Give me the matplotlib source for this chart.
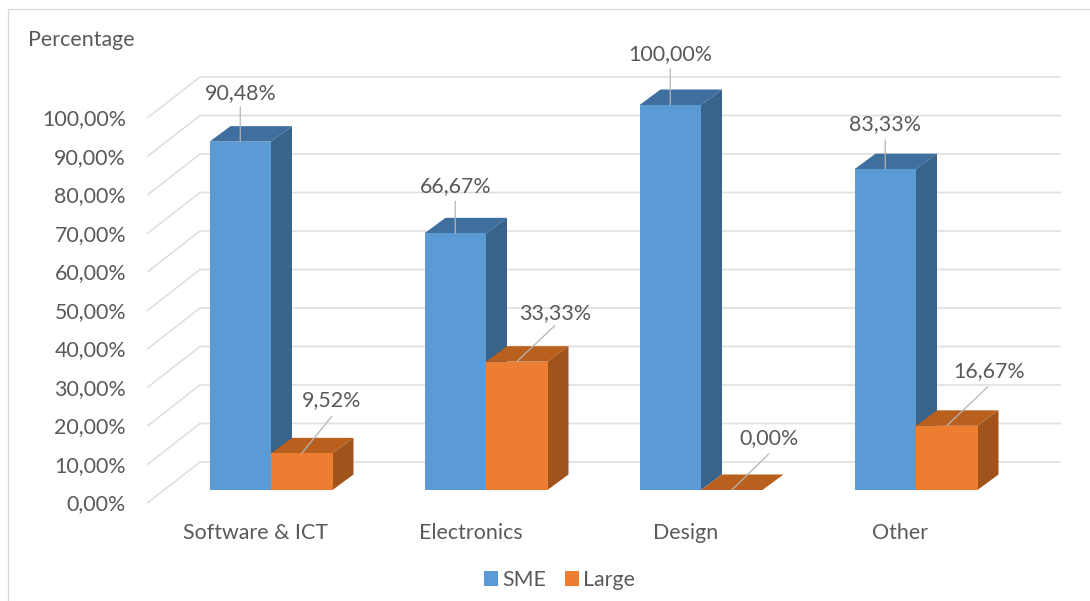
import matplotlib
matplotlib.use("Agg")
import matplotlib.pyplot as plt
from matplotlib.lines import Line2D
from matplotlib.transforms import ScaledTranslation

categories = ["Software & ICT", "Electronics", "Design", "Other"]
sme = [90.48, 66.67, 100.00, 83.33]
large = [9.52, 33.33, 0.00, 16.67]
y_ticks = [0, 10, 20, 30, 40, 50, 60, 70, 80, 90, 100]

W, H = 1090, 601
DPI = 100
TEXT = "#595959"
GRID = "#dfdfdf"
LEADER = "#b5b5b5"
BLUE = ("#5b9bd5", "#3f6f9f", "#38638b")
ORANGE = ("#ed7d31", "#b9601f", "#a0541c")

# plot box is the front plane of the bars, in pixels
LEFT, RIGHT, BOTTOM, TOP = 148, 1060, 490, 105
GROUP_STEP = 215.0
FIRST_GROUP = 271.0
PX_Y = (BOTTOM - TOP) / 100.0

BAR_W = 61.5 / GROUP_STEP
DEPTH_X = 21 / GROUP_STEP
DEPTH_Y = 15.5 / PX_Y
WALL_X = 200
WALL_UP = 28
FLOOR_DOWN = 12.5

# pixel offsets from the bar's front top centre: text centre, leader start
sme_offsets = [((1, 49), (0, 35)), ((0, 47), (0, 32)), ((0, 51), (0, 36)), ((0, 45), (0, 29))]
large_offsets = [((30, 53), (30, 37)), ((38, 49), (38, 36)), ((37, 52), (37, 36)), ((42, 55), (41, 39))]


def px_offset(dx, dy):
    return ScaledTranslation(dx / DPI, dy / DPI, fig.dpi_scale_trans)


def pct(v):
    return f"{v:.2f}".replace(".", ",") + "%"


def draw_bars(xs, values, colors, z, offsets, label):
    front, top, side = colors
    ax.bar(xs, values, BAR_W, color=front, zorder=z + 1, label=label)
    for x, v, (text_off, line_off) in zip(xs, values, offsets):
        x0, x1 = x - BAR_W / 2, x + BAR_W / 2
        ax.fill([x0, x1, x1 + DEPTH_X, x0 + DEPTH_X], [v, v, v + DEPTH_Y, v + DEPTH_Y],
                color=top, lw=0, zorder=z, clip_on=False)
        if v > 0:
            ax.fill([x1, x1 + DEPTH_X, x1 + DEPTH_X, x1], [0, DEPTH_Y, v + DEPTH_Y, v],
                    color=side, lw=0, zorder=z, clip_on=False)
        ax.annotate("", xy=(x, v), xytext=line_off, textcoords="offset pixels",
                    arrowprops=dict(arrowstyle="-", color=LEADER, lw=0.9, shrinkA=0, shrinkB=0),
                    zorder=8)
        ax.annotate(pct(v), xy=(x, v), xytext=text_off, textcoords="offset pixels",
                    ha="center", va="center", fontsize=FS, color=TEXT, zorder=9)


plt.rcParams["font.family"] = ["Lato", "DejaVu Sans"]
FS = 15.4

fig = plt.figure(figsize=(W / DPI, H / DPI), dpi=DPI, facecolor="white")
ax = fig.add_axes([LEFT / W, 1 - BOTTOM / H, (RIGHT - LEFT) / W, (BOTTOM - TOP) / H])
ax.set_xlim((LEFT - FIRST_GROUP) / GROUP_STEP, (RIGHT - FIRST_GROUP) / GROUP_STEP)
ax.set_ylim(0, 100)
ax.patch.set_alpha(0)
for spine in ax.spines.values():
    spine.set_visible(False)

# back wall gridlines and the diagonals running to the floor edge
wall_left = (WALL_X - FIRST_GROUP) / GROUP_STEP
x_min, x_max = ax.get_xlim()
for tick in y_ticks:
    ax.plot([x_min, wall_left, x_max],
            [tick - FLOOR_DOWN / PX_Y, tick + WALL_UP / PX_Y, tick + WALL_UP / PX_Y],
            color=GRID, lw=1.2, zorder=1, clip_on=False, solid_joinstyle="miter")

positions = list(range(len(categories)))
sme_x = [p - BAR_W / 2 for p in positions]
large_x = [p + BAR_W / 2 for p in positions]
draw_bars(sme_x, sme, BLUE, 2, sme_offsets, "SME")
draw_bars(large_x, large, ORANGE, 4, large_offsets, "Large")

ax.set_yticks(y_ticks)
ax.set_yticklabels([pct(t) for t in y_ticks], fontsize=FS, color=TEXT)
ax.tick_params(axis="y", length=0, pad=15.8)
for lab in ax.get_yticklabels():
    lab.set_transform(lab.get_transform() + px_offset(0, -FLOOR_DOWN))

ax.set_xticks(positions)
ax.set_xticklabels(categories, fontsize=FS, color=TEXT)
ax.tick_params(axis="x", length=0, pad=24)
for lab in ax.get_xticklabels():
    lab.set_transform(lab.get_transform() + px_offset(-15.5, 0))

fig.text(28 / W, 1 - 40 / H, "Percentage", fontsize=FS, color=TEXT, ha="left", va="center")

ax.legend(loc="center", bbox_to_anchor=(559.5 / W, 1 - 580 / H), bbox_transform=fig.transFigure,
          ncol=2, frameon=False, fontsize=FS, labelcolor=TEXT, handlelength=0.66, handleheight=0.66,
          handletextpad=0.2, columnspacing=0.9, borderpad=0, borderaxespad=0)

# thin chart frame, open on the right and at the bottom
fig.add_artist(Line2D([7.5 / W, 7.5 / W, 1], [0, 1 - 8.5 / H, 1 - 8.5 / H],
                      color="#d9d9d9", lw=0.9, transform=fig.transFigure))

fig.savefig("out.png", dpi=DPI)
plt.close(fig)
